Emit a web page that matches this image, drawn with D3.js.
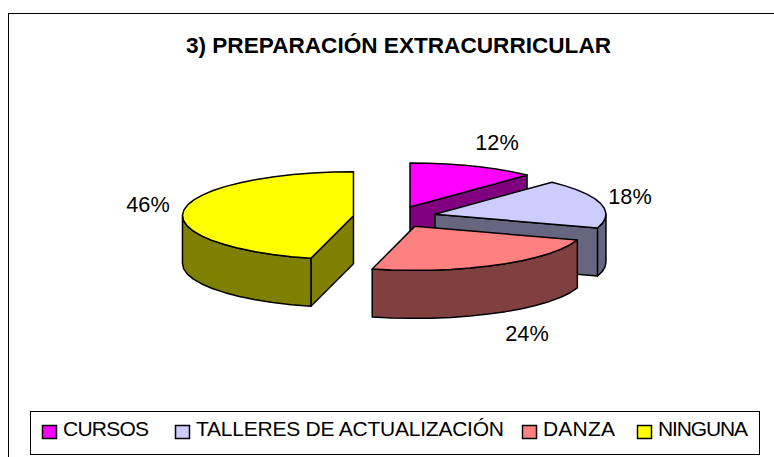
<!DOCTYPE html>
<html><head><meta charset="utf-8">
<script src="https://cdnjs.cloudflare.com/ajax/libs/d3/7.8.5/d3.min.js"></script>
<style>html,body{margin:0;padding:0;background:#fff}svg{display:block}text{font-family:"Liberation Sans",Arial,sans-serif;fill:#000}</style>
</head><body><svg id="c" width="774" height="457"></svg>
<script>
const titleText = "3) PREPARACIÓN EXTRACURRICULAR";
const categories = ["CURSOS","TALLERES DE ACTUALIZACIÓN","DANZA","NINGUNA"];
const values = [12,18,24,46];
const topColors = ["#FF00FF","#CCCCFF","#FF8080","#FFFF00"];
const sideColors = ["#800080","#666680","#804040","#808000"];
const drawOrder = [0,1,3,2];
const labelPos = [[497,142],[630,196],[527,333],[148,204]];
const legendX = [42,175,522,637];
const legendW = [86,308,72,90];

const svg = d3.select("#c");
const sx = d3.scaleLinear().domain([-1,1]).range([394.7-171,394.7+171]);
const sy = d3.scaleLinear().domain([-1,1]).range([217+44,217-44]);
const explode = 0.243, depth = 48, step = 7*Math.PI/180;
const pie = d3.pie().sort(null).value(d=>d)(values);
svg.append("rect").attr("x",8.5).attr("y",13.5).attr("width",800).attr("height",500).attr("fill","#fff").attr("stroke","#000");
svg.append("text").attr("x",398.5).attr("y",53).attr("text-anchor","middle").attr("font-size",22.6).attr("font-weight","bold").text(titleText);

function pt(a,m,dz){
  const ox=explode*Math.sin(m), oy=explode*Math.cos(m);
  return a===null ? [sx(ox), sy(oy)+dz] : [sx(ox+Math.sin(a)), sy(oy+Math.cos(a))+dz];
}
function arcPts(a0,a1,m,dz){
  const n=Math.max(1,Math.ceil((a1-a0)/step)), out=[];
  for(let i=0;i<=n;i++) out.push(pt(a0+(a1-a0)*i/n,m,dz));
  return out;
}
const line=d3.line();
drawOrder.forEach(i=>{
  const s=pie[i], a0=s.startAngle, a1=s.endAngle, m=(a0+a1)/2;
  const g=svg.append("g");
  const face=(pts,fill)=>g.append("path").attr("d",line(pts)+"Z").attr("fill",fill).attr("stroke","#000").attr("stroke-width",1.5).attr("stroke-linejoin","round");
  const wall=a=>face([pt(null,m,0),pt(a,m,0),pt(a,m,depth),pt(null,m,depth)],sideColors[i]);
  if(Math.sin(a0)<-1e-6) wall(a0);
  if(Math.sin(a1)>1e-6) wall(a1);
  const b0=Math.max(a0,Math.PI/2), b1=Math.min(a1,Math.PI*1.5);
  if(b1>b0) face(arcPts(b0,b1,m,0).concat(arcPts(b0,b1,m,depth).reverse()),sideColors[i]);
  face([pt(null,m,0)].concat(arcPts(a0,a1,m,0)),topColors[i]);
});
values.forEach((v,i)=>svg.append("text").attr("x",labelPos[i][0]).attr("y",labelPos[i][1]+7.5).attr("text-anchor","middle").attr("font-size",21.7).text(v+"%"));

svg.append("rect").attr("x",30.5).attr("y",411.5).attr("width",729).attr("height",43).attr("fill","#fff").attr("stroke","#000");
categories.forEach((c,i)=>{
  svg.append("rect").attr("x",legendX[i]+.5).attr("y",425.5).attr("width",14).attr("height",13).attr("fill",topColors[i]).attr("stroke","#000").attr("stroke-width",1.5);
  svg.append("text").attr("x",legendX[i]+21).attr("y",436).attr("font-size",21).attr("textLength",legendW[i]).attr("lengthAdjust","spacing").text(c);
});
</script></body></html>
